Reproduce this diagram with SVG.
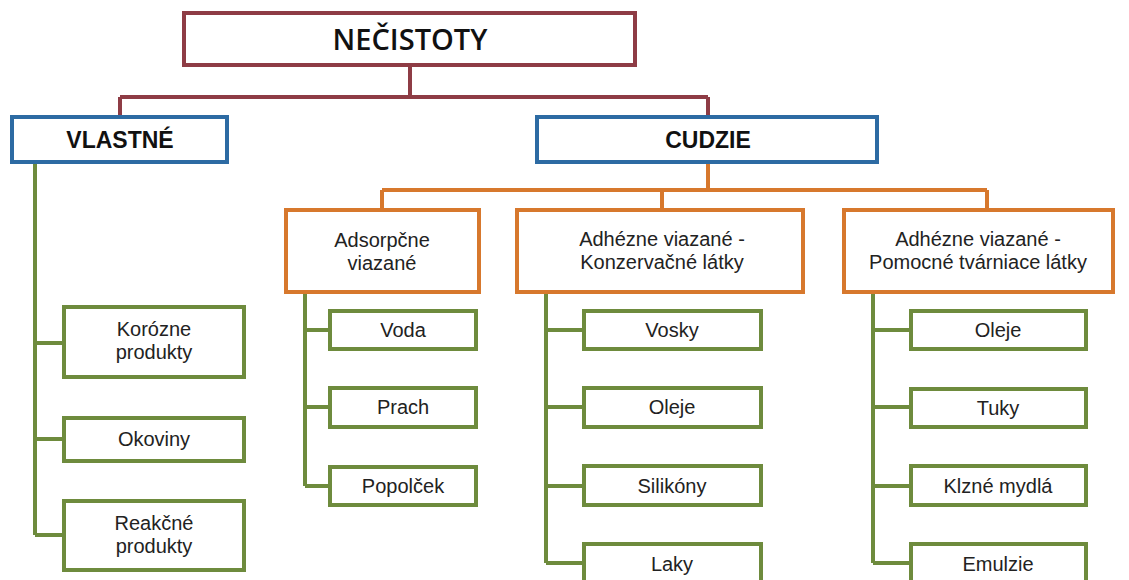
<svg xmlns="http://www.w3.org/2000/svg" width="1129" height="580" viewBox="0 0 1129 580">
<style>
.bg{fill:#ffffff}
.box{fill:#ffffff;stroke-width:4}
.red{stroke:#8E3C45}
.blue{stroke:#2D6BA3}
.org{stroke:#D7782D}
.grn{stroke:#6E8B3D}
.ln{fill:none;stroke-width:4;stroke-linejoin:miter;stroke-linecap:butt}
.t{font-family:"Liberation Sans",Arial,sans-serif;font-size:20px;fill:#222222;text-anchor:middle}
.tb{font-family:"Liberation Sans",Arial,sans-serif;font-size:23px;font-weight:bold;fill:#111111;text-anchor:middle}
.tt{font-family:"Open Sans","Liberation Sans",sans-serif;font-size:29px;font-weight:600;fill:#111111;text-anchor:middle}
</style>
<rect class="bg" x="0" y="0" width="1129" height="580"/>
<g id="connectors">
  <path class="ln red" d="M410 65 V97 M120 97 H708 M120 97 V117 M708 97 V117"/>
  <path class="ln org" d="M708 162 V190 M382 190 H987 M382 190 V210 M662 190 V210 M987 190 V210"/>
  <path class="ln grn" d="M35 162 V535 M35 343 H64 M35 439 H64 M35 535 H64"/>
  <path class="ln grn" d="M305 292 V486 M305 330 H330 M305 407 H330 M305 486 H330"/>
  <path class="ln grn" d="M546 292 V563 M546 330 H584 M546 407 H584 M546 486 H584 M546 563 H584"/>
  <path class="ln grn" d="M873 292 V563 M873 330 H911 M873 407 H911 M873 486 H911 M873 563 H911"/>
</g>
<g id="n-necistoty"><rect class="box red" x="184" y="13" width="451" height="52"/><text class="tt" x="410" y="50">NEČISTOTY</text></g>
<g id="n-vlastne"><rect class="box blue" x="12" y="117" width="215" height="45"/><text class="tb" x="120" y="148">VLASTNÉ</text></g>
<g id="n-cudzie"><rect class="box blue" x="537" y="117" width="340" height="45"/><text class="tb" x="708" y="148">CUDZIE</text></g>
<g id="n-adsorpcne"><rect class="box org" x="286" y="210" width="193" height="82"/><text class="t" x="382" y="247">Adsorpčne</text><text class="t" x="382" y="270">viazané</text></g>
<g id="n-konzervacne"><rect class="box org" x="517" y="210" width="286" height="82"/><text class="t" x="662" y="246">Adhézne viazané -</text><text class="t" x="662" y="269">Konzervačné látky</text></g>
<g id="n-pomocne"><rect class="box org" x="844" y="210" width="269" height="82"/><text class="t" x="978" y="246">Adhézne viazané -</text><text class="t" x="978" y="269">Pomocné tvárniace látky</text></g>
<g id="n-korozne"><rect class="box grn" x="64" y="307" width="180" height="70"/><text class="t" x="154" y="336">Korózne</text><text class="t" x="154" y="359">produkty</text></g>
<g id="n-okoviny"><rect class="box grn" x="64" y="418" width="180" height="43"/><text class="t" x="154" y="446">Okoviny</text></g>
<g id="n-reakcne"><rect class="box grn" x="64" y="501" width="180" height="69"/><text class="t" x="154" y="530">Reakčné</text><text class="t" x="154" y="553">produkty</text></g>
<g id="n-voda"><rect class="box grn" x="330" y="311" width="146" height="38"/><text class="t" x="403" y="337">Voda</text></g>
<g id="n-prach"><rect class="box grn" x="330" y="388" width="146" height="39"/><text class="t" x="403" y="414">Prach</text></g>
<g id="n-popolcek"><rect class="box grn" x="330" y="467" width="146" height="38"/><text class="t" x="403" y="493">Popolček</text></g>
<g id="n-vosky"><rect class="box grn" x="584" y="311" width="177" height="38"/><text class="t" x="672" y="337">Vosky</text></g>
<g id="n-oleje1"><rect class="box grn" x="584" y="388" width="177" height="39"/><text class="t" x="672" y="414">Oleje</text></g>
<g id="n-silikony"><rect class="box grn" x="584" y="466" width="177" height="39"/><text class="t" x="672" y="493">Silikóny</text></g>
<g id="n-laky"><rect class="box grn" x="584" y="544" width="177" height="40"/><text class="t" x="672" y="571">Laky</text></g>
<g id="n-oleje2"><rect class="box grn" x="911" y="311" width="175" height="38"/><text class="t" x="998" y="337">Oleje</text></g>
<g id="n-tuky"><rect class="box grn" x="911" y="389" width="175" height="38"/><text class="t" x="998" y="415">Tuky</text></g>
<g id="n-klzne"><rect class="box grn" x="911" y="466" width="175" height="39"/><text class="t" x="998" y="493">Klzné mydlá</text></g>
<g id="n-emulzie"><rect class="box grn" x="911" y="544" width="175" height="40"/><text class="t" x="998" y="571">Emulzie</text></g>
</svg>
